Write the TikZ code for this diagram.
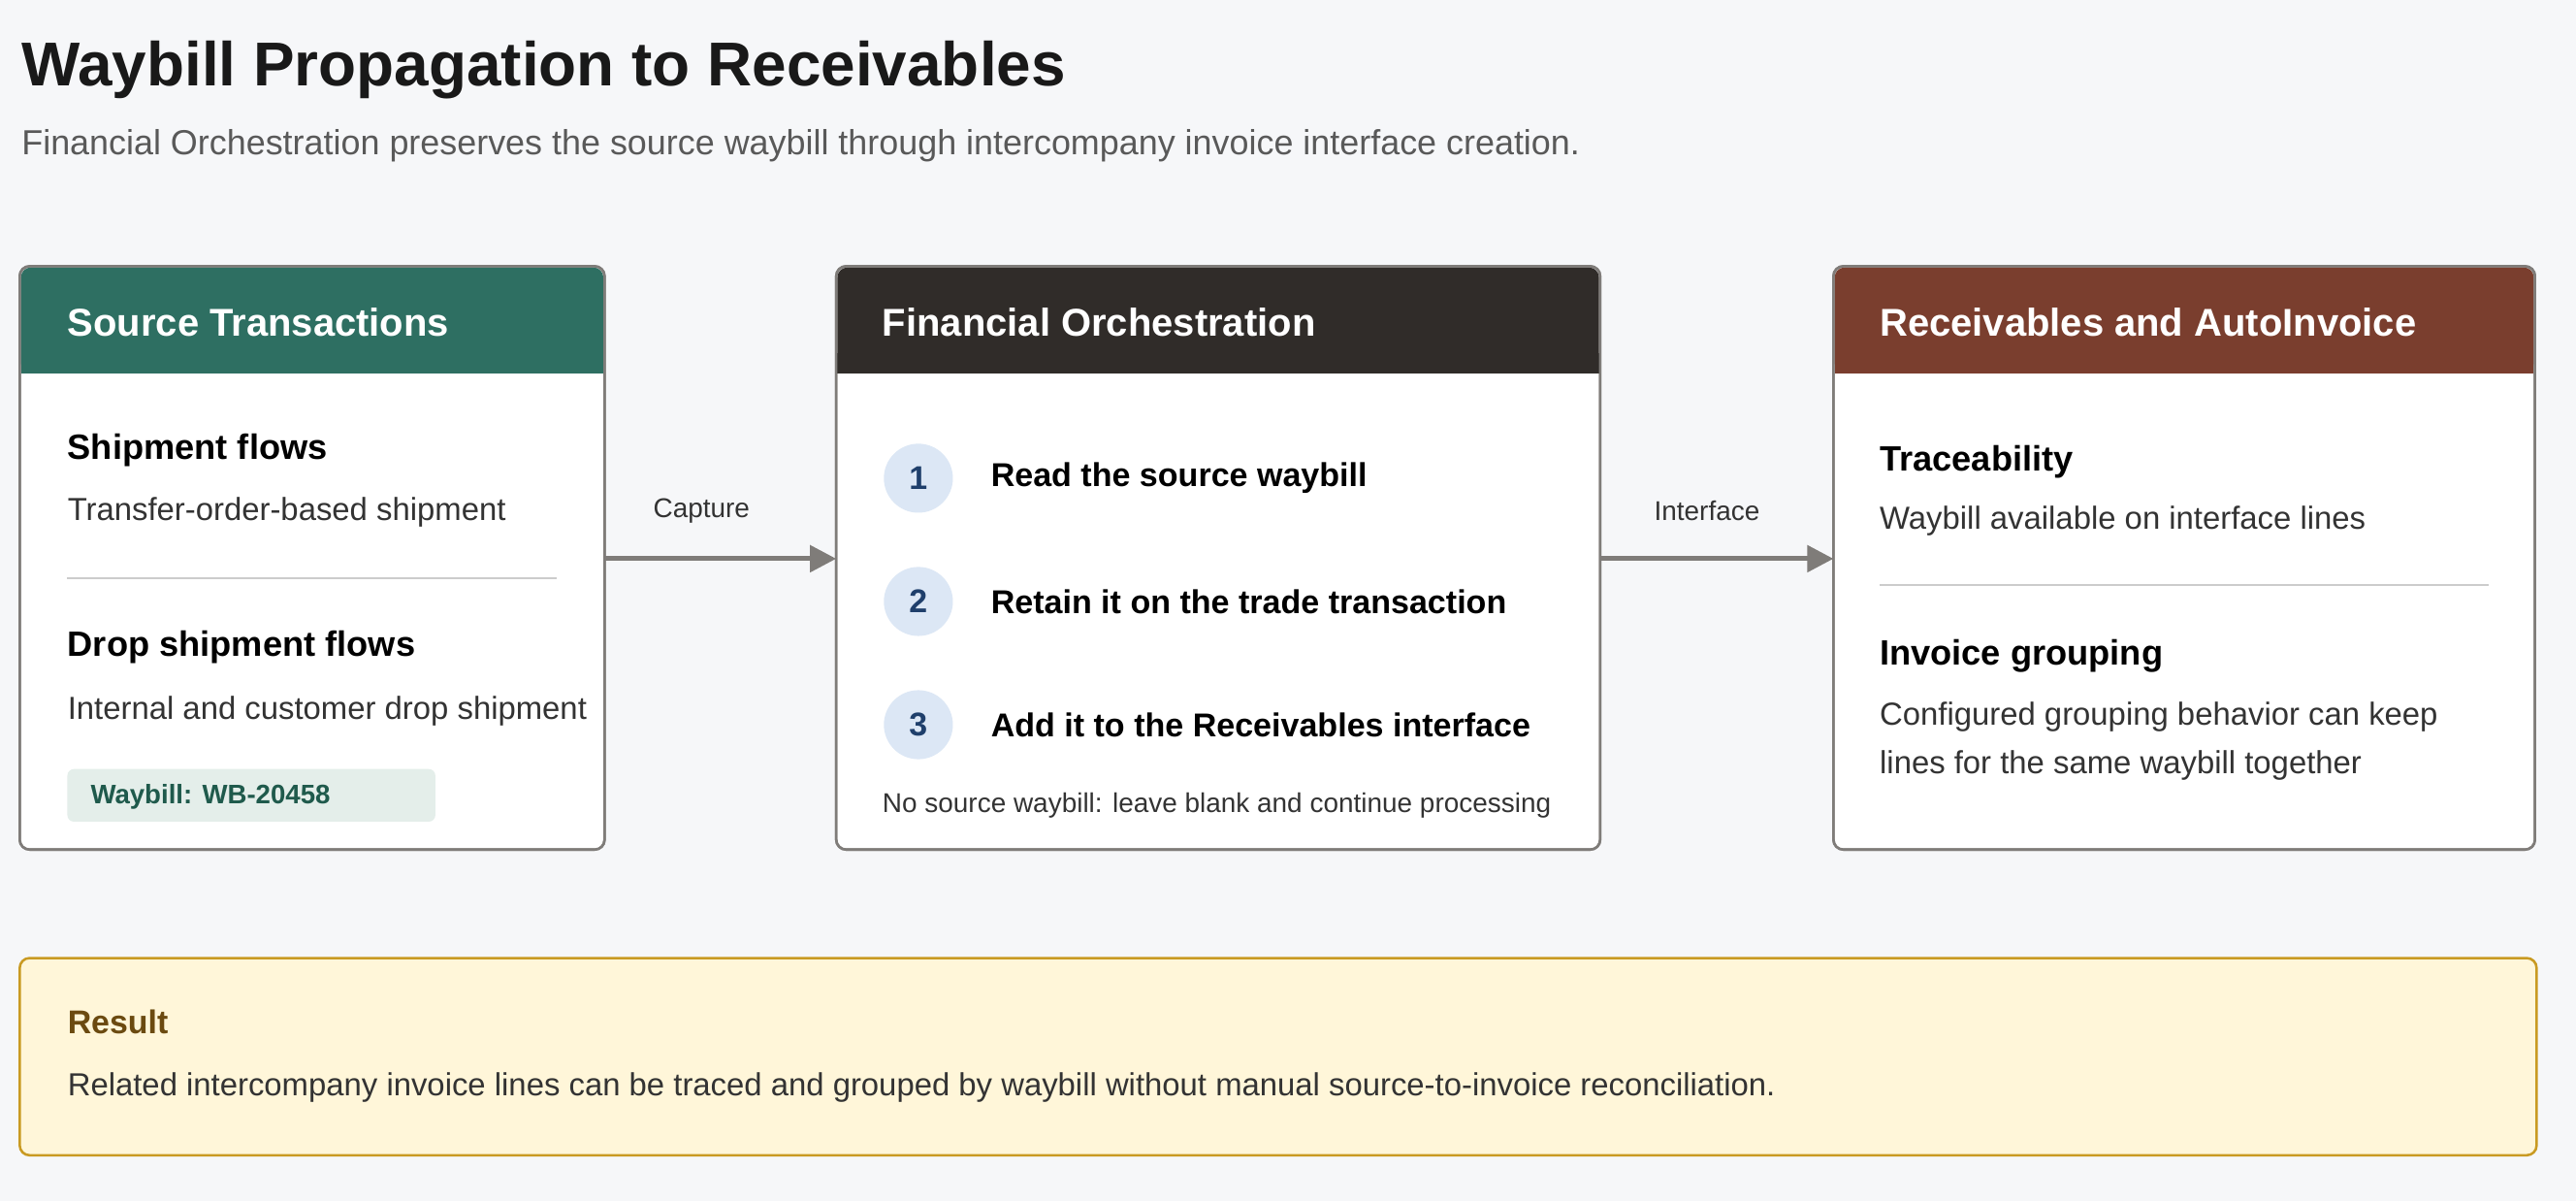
\documentclass[tikz,border=0pt]{standalone}
\usepackage{fontspec}
\setmainfont{Liberation Sans}
\usetikzlibrary{arrows.meta}
\definecolor{bg}{HTML}{F6F7F9}
\definecolor{teal}{HTML}{2E6F62}
\definecolor{dark}{HTML}{302C29}
\definecolor{rust}{HTML}{7A3E2E}
\definecolor{border}{HTML}{7F7C79}
\definecolor{txt}{HTML}{333333}
\definecolor{circ}{HTML}{DCE7F5}
\definecolor{num}{HTML}{1F3F6B}
\definecolor{resfill}{HTML}{FFF6D9}
\definecolor{resline}{HTML}{C99A22}
\definecolor{resbrown}{HTML}{6B4A10}
\definecolor{tagfill}{HTML}{E4EEEA}
\definecolor{tagtxt}{HTML}{1F5A4C}
\tikzset{
 fs/.style={font=\fontsize{#1}{#1}\selectfont},
 t/.style={anchor=west,inner sep=0pt,text=txt},
 h/.style={anchor=west,inner sep=0pt,text=black,font=\fontsize{21.4}{21.4}\selectfont\bfseries},
 hdr/.style={anchor=west,inner sep=0pt,text=white,font=\fontsize{23.6}{23.6}\selectfont\bfseries},
 card/.style={draw=border,line width=1.5pt,rounded corners=6pt,fill=white},
 arr/.style={draw=border,line width=3pt,-{Triangle[length=16pt,width=16pt]}},
 num/.style={circle,fill=circ,minimum size=42pt,inner sep=0pt,text=num,font=\fontsize{20}{20}\selectfont\bfseries},
}
\begin{document}
\begin{tikzpicture}[x=1pt,y=-1pt]
\fill[bg] (0,0) rectangle (1568,731);
\useasboundingbox (0,0) rectangle (1568,731);
\node[anchor=base west,inner sep=0pt,font=\fontsize{37.7}{37.7}\selectfont\bfseries,text=black!90] (title) at (13,52) {Waybill Propagation to Receivables};
\node[anchor=base west,inner sep=0pt,fs=21.2,text=black!65] (sub) at (13,94) {Financial Orchestration preserves the source waybill through intercompany invoice interface creation.};
% cards
\foreach \a/\b/\c/\n in {12/368/teal/c1,509/974/dark/c2,1116/1543/rust/c3}{
 \draw[card] (\a,162) rectangle (\b,517);
 \fill[\c,rounded corners=6pt] (\a+0.75,162.75) rectangle (\b-0.75,227);
 \fill[\c] (\a+0.75,215) rectangle (\b-0.75,227);
 \draw[border,line width=1.5pt,rounded corners=6pt] (\a,162) rectangle (\b,517);
}
\coordinate (c1e) at (368,340); \coordinate (c2w) at (509,340);
\coordinate (c2e) at (974,340); \coordinate (c3w) at (1116,340);
\node[hdr] (h1) at (41,196) {Source Transactions};
\node[hdr] (h2) at (537,196) {Financial Orchestration};
\node[hdr] (h3) at (1144,196) {Receivables and AutoInvoice};
% card1
\node[h] (s1) at (41,274) {Shipment flows};
\node[t,fs=19.4] (s1t) at (41,312) {Transfer-order-based shipment};
\draw[black!20,line width=1pt] (41,352) -- (339,352);
\node[h] (s2) at (41,394) {Drop shipment flows};
\node[t,fs=19.4] (s2t) at (41,433) {Internal and customer drop shipment};
\fill[tagfill,rounded corners=4pt] (41,468) rectangle (265,500);
\node[t,text=tagtxt,font=\fontsize{16.3}{16.3}\selectfont\bfseries] (tag) at (55,485) {Waybill: WB-20458};
% card2
\foreach \i/\y/\s in {1/291/Read the source waybill,2/366/Retain it on the trade transaction,3/441/Add it to the Receivables interface}{
 \node[num] (n\i) at (559,\y) {\i};
 \node[t,text=black,font=\fontsize{20.1}{20.1}\selectfont\bfseries] (st\i) at (603,\y) {\s};
}
\node[t,fs=16.5] (foot) at (537,490) {No source waybill: leave blank and continue processing};
% card3
\node[h] (r1) at (1144,281) {Traceability};
\node[t,fs=19.4] (r1t) at (1144,317) {Waybill available on interface lines};
\draw[black!20,line width=1pt] (1144,356) -- (1515,356);
\node[h] (r2) at (1144,399) {Invoice grouping};
\node[t,fs=19.4] (r2a) at (1144,436) {Configured grouping behavior can keep};
\node[t,fs=19.4] (r2b) at (1144,466) {lines for the same waybill together};
% arrows
\draw[arr] (c1e) -- (c2w);
\draw[arr] (c2e) -- (c3w);
\node[fs=16.5,text=txt,inner sep=0pt] (cap) at (427,311) {Capture};
\node[fs=16.5,text=txt,inner sep=0pt] (int) at (1039,311) {Interface};
% result
\draw[fill=resfill,draw=resline,line width=1.5pt,rounded corners=6pt] (12,583) rectangle (1544,703);
\node[t,text=resbrown,font=\fontsize{20}{20}\selectfont\bfseries] (res) at (41,622) {Result};
\node[t,fs=19.4] (rest) at (41,662) {Related intercompany invoice lines can be traced and grouped by waybill without manual source-to-invoice reconciliation.};
\end{tikzpicture}
\end{document}
